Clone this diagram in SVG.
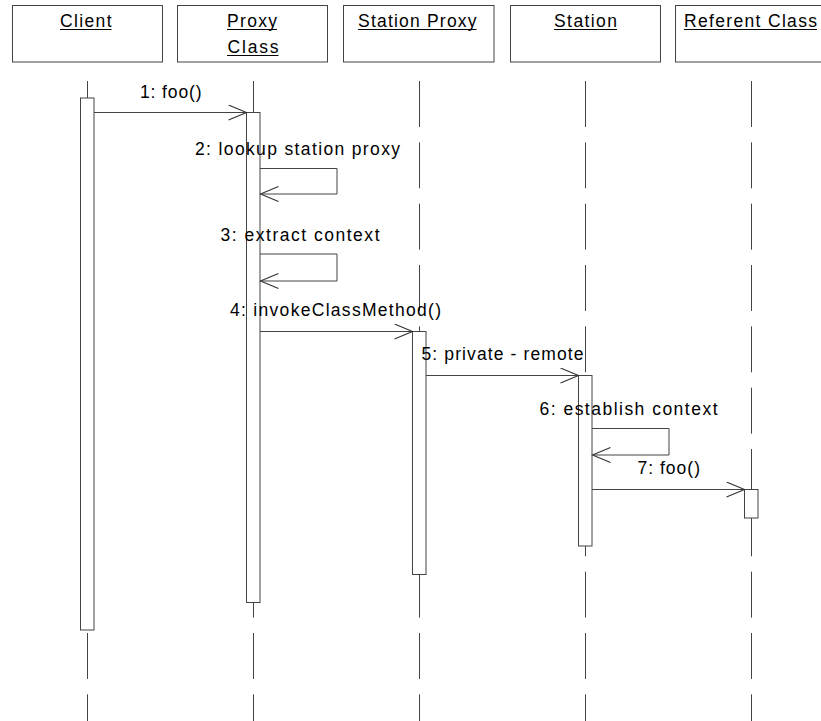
<svg xmlns="http://www.w3.org/2000/svg" width="821" height="721" viewBox="0 0 821 721">
  <defs>
    <style>
      .head { fill: #ffffff; stroke: #444444; stroke-width: 1; }
      .name { font-family: "Liberation Sans", Arial, sans-serif; font-size: 17.5px; fill: #000000; }
      .ul { stroke: #000000; stroke-width: 1; }
      .life { stroke: #444444; stroke-width: 1; stroke-dasharray: 46 15.33; fill: none; }
      .act { fill: #ffffff; stroke: #444444; stroke-width: 1; }
      .msg { stroke: #444444; stroke-width: 1; fill: none; }
      .lbl { font-family: "Liberation Sans", Arial, sans-serif; font-size: 17.5px; fill: #000000; }
    </style>
    <marker id="open" markerUnits="userSpaceOnUse" markerWidth="22" markerHeight="18" refX="19" refY="8" orient="auto">
      <path d="M1,0.5 L19,8 L1,15.5" fill="none" stroke="#333333" stroke-width="1.1"/>
    </marker>
  </defs>
  <rect width="821" height="721" fill="#ffffff"/>

  <!-- object heads -->
  <g id="client">
    <rect class="head" x="12.5" y="5.5" width="150" height="56.5"/>
    <text class="name" x="60" y="26.5" textLength="51.5" lengthAdjust="spacing">Client</text>
    <line class="ul" x1="60" y1="29.5" x2="111.5" y2="29.5"/>
  </g>
  <g id="proxy-class">
    <rect class="head" x="177.5" y="5.5" width="150" height="56.5"/>
    <text class="name" x="227" y="26.5" textLength="50" lengthAdjust="spacing">Proxy</text>
    <line class="ul" x1="227" y1="29.5" x2="277" y2="29.5"/>
    <text class="name" x="227.5" y="52.5" textLength="51" lengthAdjust="spacing">Class</text>
    <line class="ul" x1="227" y1="55.5" x2="278.5" y2="55.5"/>
  </g>
  <g id="station-proxy">
    <rect class="head" x="343.5" y="5.5" width="150.5" height="56.5"/>
    <text class="name" x="358" y="26.5" textLength="118.5" lengthAdjust="spacing">Station Proxy</text>
    <line class="ul" x1="358" y1="29.5" x2="476.5" y2="29.5"/>
  </g>
  <g id="station">
    <rect class="head" x="510.5" y="5.5" width="150" height="56.5"/>
    <text class="name" x="554" y="26.5" textLength="63" lengthAdjust="spacing">Station</text>
    <line class="ul" x1="554" y1="29.5" x2="617" y2="29.5"/>
  </g>
  <g id="referent-class">
    <rect class="head" x="675.5" y="5.5" width="150" height="56.5"/>
    <text class="name" x="684" y="26.5" textLength="133" lengthAdjust="spacing">Referent Class</text>
    <line class="ul" x1="684" y1="29.5" x2="817" y2="29.5"/>
  </g>

  <!-- lifelines -->
  <g id="lifelines">
    <line class="life" x1="87.5" y1="81" x2="87.5" y2="721"/>
    <line class="life" x1="253.5" y1="81" x2="253.5" y2="721"/>
    <line class="life" x1="419.5" y1="81" x2="419.5" y2="721"/>
    <line class="life" x1="585.5" y1="81" x2="585.5" y2="721"/>
    <line class="life" x1="751.5" y1="81" x2="751.5" y2="721"/>
  </g>

  <!-- activation bars -->
  <g id="activations">
    <rect class="act" x="80.5" y="98" width="13.5" height="532"/>
    <rect class="act" x="246.5" y="112.5" width="13.5" height="490"/>
    <rect class="act" x="412.5" y="331.5" width="13.5" height="243"/>
    <rect class="act" x="578.5" y="375.5" width="13.5" height="170.5"/>
    <rect class="act" x="744.5" y="489.5" width="13.5" height="28.5"/>
  </g>

  <!-- messages -->
  <g id="connectors">
    <line class="msg" x1="94" y1="112.5" x2="246.5" y2="112.5" marker-end="url(#open)"/>
    <path class="msg" d="M260,168.5 H337 V194 H260.5" marker-end="url(#open)"/>
    <path class="msg" d="M260,254 H337 V281 H260.5" marker-end="url(#open)"/>
    <line class="msg" x1="260" y1="331.5" x2="412.5" y2="331.5" marker-end="url(#open)"/>
    <line class="msg" x1="426" y1="375.5" x2="578.5" y2="375.5" marker-end="url(#open)"/>
    <path class="msg" d="M592,428.5 H669 V455 H592.5" marker-end="url(#open)"/>
    <line class="msg" x1="592" y1="489.5" x2="744.5" y2="489.5" marker-end="url(#open)"/>
  </g>

  <!-- message labels -->
  <g id="labels">
    <text class="lbl" x="140" y="98" textLength="61.5" lengthAdjust="spacing">1: foo()</text>
    <text class="lbl" x="195" y="155" textLength="205" lengthAdjust="spacing">2: lookup station proxy</text>
    <text class="lbl" x="220.5" y="241" textLength="159" lengthAdjust="spacing">3: extract context</text>
    <text class="lbl" x="230" y="315.5" textLength="211" lengthAdjust="spacing">4: invokeClassMethod()</text>
    <text class="lbl" x="421.5" y="360" textLength="162" lengthAdjust="spacing">5: private - remote</text>
    <text class="lbl" x="539.5" y="415" textLength="178" lengthAdjust="spacing">6: establish context</text>
    <text class="lbl" x="637.5" y="473.5" textLength="62.5" lengthAdjust="spacing">7: foo()</text>
  </g>
</svg>
